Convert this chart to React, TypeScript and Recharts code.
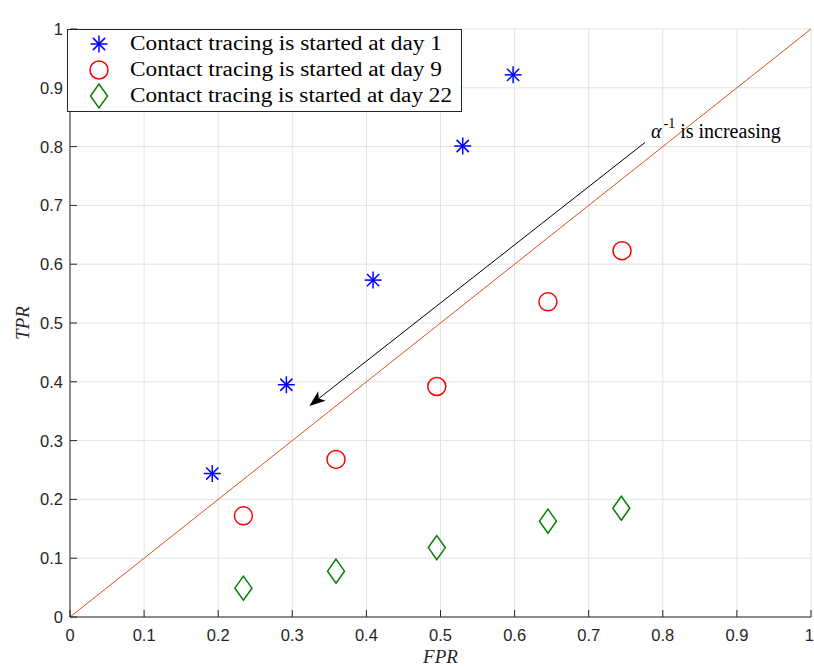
import React from "react";
import { ScatterChart, Scatter, XAxis, YAxis, CartesianGrid, ReferenceLine } from "recharts";

const TICKS = [0, 0.1, 0.2, 0.3, 0.4, 0.5, 0.6, 0.7, 0.8, 0.9, 1];
const TICK_LABELS = ["0", "0.1", "0.2", "0.3", "0.4", "0.5", "0.6", "0.7", "0.8", "0.9", "1"];

const FPR_DAY1 = [0.192, 0.292, 0.409, 0.53, 0.598];
const TPR_DAY1 = [0.244, 0.395, 0.573, 0.801, 0.922];
const FPR_DAY9 = [0.234, 0.359, 0.495, 0.645, 0.745];
const TPR_DAY9 = [0.172, 0.268, 0.392, 0.536, 0.623];
const FPR_DAY22 = [0.234, 0.359, 0.495, 0.645, 0.744];
const TPR_DAY22 = [0.049, 0.078, 0.118, 0.163, 0.185];

const SERIES_NAMES = [
  "Contact tracing is started at day 1",
  "Contact tracing is started at day 9",
  "Contact tracing is started at day 22",
];

const DIAGONAL = [{ x: 0, y: 0 }, { x: 1, y: 1 }];
const ARROW = [{ x: 0.776, y: 0.807 }, { x: 0.323, y: 0.359 }];

const toPoints = (xs: number[], ys: number[]) => xs.map((x, i) => ({ x, y: ys[i] }));

const AXIS_COLOR = "#262626";
const TICK_FONT = { fontFamily: "'Liberation Sans', Arial, sans-serif", fontSize: 16.5, fill: AXIS_COLOR };
const LATEX_FONT = "'Liberation Serif', 'Times New Roman', serif";

// marker shapes (MATLAB style)
const Star = ({ cx, cy }: any) => {
  const r = 8.5;
  const d = r * 0.72;
  return (
    <g stroke="#0000FF" strokeWidth={1.5}>
      <line x1={cx - r} y1={cy} x2={cx + r} y2={cy} />
      <line x1={cx} y1={cy - r} x2={cx} y2={cy + r} />
      <line x1={cx - d} y1={cy - d} x2={cx + d} y2={cy + d} />
      <line x1={cx - d} y1={cy + d} x2={cx + d} y2={cy - d} />
    </g>
  );
};

const Circle = ({ cx, cy }: any) => (
  <circle cx={cx} cy={cy} r={9} fill="none" stroke="#FF0000" strokeWidth={1.5} />
);

const Diamond = ({ cx, cy }: any) => (
  <polygon
    points={`${cx},${cy - 12} ${cx + 8.5},${cy} ${cx},${cy + 12} ${cx - 8.5},${cy}`}
    fill="none"
    stroke="#008000"
    strokeWidth={1.5}
  />
);

// ticks drawn inward like matlab
const BottomTick = ({ x, y, index }: any) => {
  const last = index === TICK_LABELS.length - 1;
  return (
    <g>
      <line x1={x} y1={y} x2={x} y2={y - 7} stroke={AXIS_COLOR} />
      <text x={last ? x + 3 : x} y={y + 24} textAnchor={last ? "end" : "middle"} {...TICK_FONT}>
        {TICK_LABELS[index]}
      </text>
    </g>
  );
};
const LeftTick = ({ x, y, index }: any) => (
  <g>
    <line x1={x} y1={y} x2={x + 7} y2={y} stroke={AXIS_COLOR} />
    <text x={x - 7} y={y + 6} textAnchor="end" {...TICK_FONT}>{TICK_LABELS[index]}</text>
  </g>
);
const TopTick = ({ x, y }: any) => <line x1={x} y1={y} x2={x} y2={y + 7} stroke={AXIS_COLOR} />;
const RightTick = ({ x, y }: any) => <line x1={x} y1={y} x2={x - 7} y2={y} stroke={AXIS_COLOR} />;

const ArrowShape = ({ x1, y1, x2, y2 }: any) => {
  const len = Math.hypot(x2 - x1, y2 - y1);
  const ux = (x2 - x1) / len;
  const uy = (y2 - y1) / len;
  const nx = -uy;
  const ny = ux;
  const L = 16;
  const w = 6;
  const bx = x2 - ux * L;
  const by = y2 - uy * L;
  const mx = x2 - ux * (L - 4);
  const my = y2 - uy * (L - 4);
  return (
    <g>
      <line x1={x1} y1={y1} x2={mx} y2={my} stroke="#000" strokeWidth={1} />
      <polygon
        points={`${x2},${y2} ${bx + nx * w},${by + ny * w} ${mx},${my} ${bx - nx * w},${by - ny * w}`}
        fill="#000"
      />
      <text x={x1 + 6} y={y1 - 4} fontFamily={LATEX_FONT} fontSize={20} fill="#000">
        <tspan fontStyle="italic">α</tspan>
        <tspan fontSize={14} dy={-10} dx={2}>-1</tspan>
        <tspan dy={10} dx={5}>is increasing</tspan>
      </text>
    </g>
  );
};

const Legend = () => (
  <svg
    width={395}
    height={83}
    style={{ position: "absolute", left: 67, top: 29, background: "#fff" }}
  >
    <rect x={0.5} y={0.5} width={394} height={82} fill="#fff" stroke={AXIS_COLOR} />
    <Star cx={32} cy={15} />
    <Circle cx={32} cy={41} />
    <Diamond cx={32} cy={67} />
    {SERIES_NAMES.map((name, i) => (
      <text
        key={name}
        x={63}
        y={21 + i * 26}
        fontFamily={LATEX_FONT}
        fontSize={20}
        fill="#000"
        textLength={i === 2 ? 322 : 312}
        lengthAdjust="spacingAndGlyphs"
      >
        {name}
      </text>
    ))}
  </svg>
);

export default function App() {
  return (
    <div style={{ position: "relative", width: 814, height: 668 }}>
      <style>{"body{margin:0;overflow:hidden;}"}</style>
      <ScatterChart width={814} height={668} margin={{ top: 29, right: 3, bottom: 0, left: 0 }}>
        <CartesianGrid stroke="#e3e3e3" />
        <XAxis
          type="number"
          dataKey="x"
          domain={[0, 1]}
          ticks={TICKS}
          height={51}
          tickSize={0}
          tickMargin={0}
          tick={<BottomTick />}
          axisLine={{ stroke: AXIS_COLOR }}
          interval={0}
          label={({ viewBox }: any) => (
            <text
              x={viewBox.x + viewBox.width / 2}
              y={viewBox.y + viewBox.height - 5}
              textAnchor="middle"
              fontFamily={LATEX_FONT}
              fontStyle="italic"
              fontSize={19}
              fill={AXIS_COLOR}
            >
              FPR
            </text>
          )}
        />
        <XAxis
          xAxisId="top"
          orientation="top"
          type="number"
          domain={[0, 1]}
          ticks={TICKS}
          height={0}
          tickSize={0}
          tickMargin={0}
          tick={<TopTick />}
          axisLine={{ stroke: AXIS_COLOR }}
          interval={0}
          label={({ viewBox }: any) => (
            <text
              x={viewBox.x + viewBox.width / 2}
              y={viewBox.y - 9}
              textAnchor="middle"
              fontFamily={LATEX_FONT}
              fontStyle="italic"
              fontSize={19}
              fill="#000"
            >
              ROC Curve
            </text>
          )}
        />
        <YAxis
          type="number"
          dataKey="y"
          domain={[0, 1]}
          ticks={TICKS}
          width={70}
          tickSize={0}
          tickMargin={0}
          tick={<LeftTick />}
          axisLine={{ stroke: AXIS_COLOR }}
          interval={0}
          label={({ viewBox }: any) => {
            const cx = viewBox.x + 22;
            const cy = viewBox.y + viewBox.height / 2;
            return (
              <text
                x={cx}
                y={cy}
                transform={`rotate(-90 ${cx} ${cy})`}
                textAnchor="middle"
                dominantBaseline="central"
                fontFamily={LATEX_FONT}
                fontStyle="italic"
                fontSize={19}
                fill={AXIS_COLOR}
              >
                TPR
              </text>
            );
          }}
        />
        <YAxis
          yAxisId="right"
          orientation="right"
          type="number"
          domain={[0, 1]}
          ticks={TICKS}
          width={0}
          tickSize={0}
          tickMargin={0}
          tick={<RightTick />}
          axisLine={{ stroke: AXIS_COLOR }}
          interval={0}
        />
        <ReferenceLine segment={DIAGONAL} stroke="#D95319" strokeWidth={1} />
        <ReferenceLine segment={ARROW} shape={(p: any) => <ArrowShape {...p} />} />
        <Scatter name={SERIES_NAMES[0]} data={toPoints(FPR_DAY1, TPR_DAY1)} shape={<Star />} isAnimationActive={false} />
        <Scatter name={SERIES_NAMES[1]} data={toPoints(FPR_DAY9, TPR_DAY9)} shape={<Circle />} isAnimationActive={false} />
        <Scatter name={SERIES_NAMES[2]} data={toPoints(FPR_DAY22, TPR_DAY22)} shape={<Diamond />} isAnimationActive={false} />
      </ScatterChart>
      <Legend />
    </div>
  );
}
